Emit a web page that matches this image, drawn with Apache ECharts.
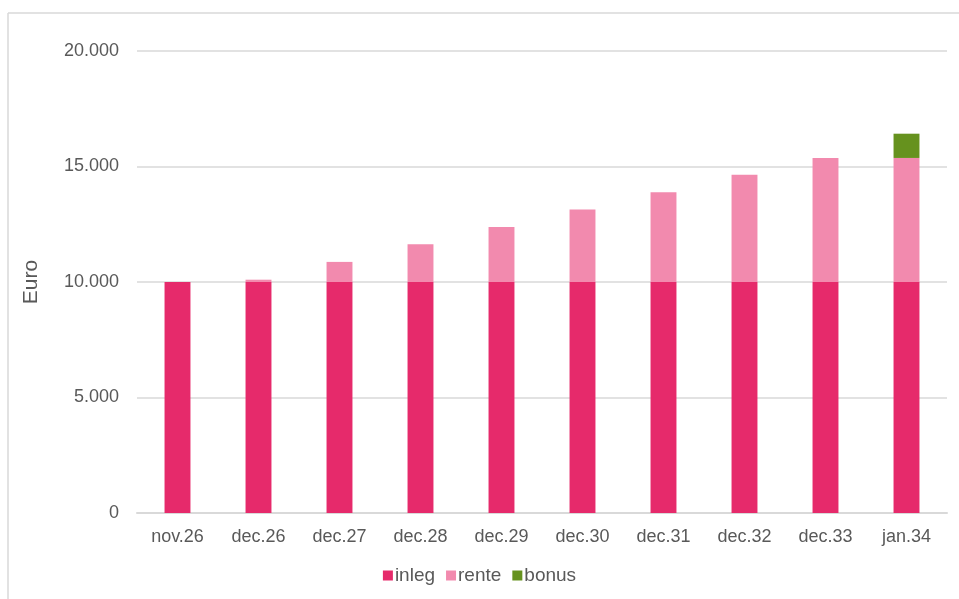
<!DOCTYPE html>
<html>
<head>
<meta charset="utf-8">
<script src="https://cdn.jsdelivr.net/npm/echarts@6/dist/echarts.min.js"></script>
<style>html,body{margin:0;padding:0;background:#fff}#c{width:959px;height:599px}</style>
</head>
<body>
<div id="c"></div>
<script>
var categories = ['nov.26','dec.26','dec.27','dec.28','dec.29','dec.30','dec.31','dec.32','dec.33','jan.34'];
var inleg = [10000,10000,10000,10000,10000,10000,10000,10000,10000,10000];
var rente = [0,100,870,1630,2380,3140,3890,4640,5370,5370];
var bonus = [0,0,0,0,0,0,0,0,0,1050];
var yTicks = [0,5000,10000,15000,20000];

var chart = echarts.init(document.getElementById('c'), null, {renderer:'canvas'});
var font = 'Liberation Sans, Arial, Helvetica, sans-serif';
function fmt(v){ return v === 0 ? '0' : String(v).replace(/\B(?=(\d{3})+(?!\d))/g, '.'); }
chart.setOption({
  animation:false,
  textStyle:{fontFamily:font},
  graphic:[
    {type:'line', shape:{x1:8,y1:13,x2:959,y2:13}, style:{stroke:'#d9d9d9', lineWidth:1.5}},
    {type:'line', shape:{x1:8,y1:13,x2:8,y2:599}, style:{stroke:'#d9d9d9', lineWidth:1.5}}
  ],
  grid:{left:137, right:12, top:51, bottom:86, containLabel:false},
  legend:{
    bottom:9, left:'center', itemWidth:10, itemHeight:10, itemGap:11, icon:'rect',
    textStyle:{fontSize:19, color:'#595959', fontFamily:font, padding:[0,0,0,-3]},
    data:['inleg','rente','bonus']
  },
  xAxis:{
    type:'category', data:categories,
    axisLine:{lineStyle:{color:'#d9d9d9', width:2}},
    axisTick:{show:false},
    axisLabel:{fontSize:18, color:'#595959', margin:15, fontFamily:font}
  },
  yAxis:{
    type:'value', min:yTicks[0], max:yTicks[yTicks.length-1], interval:5000,
    name:'Euro', nameLocation:'middle', nameGap:95, nameRotate:90,
    nameTextStyle:{fontSize:21, color:'#595959', fontFamily:font},
    axisLine:{show:false}, axisTick:{show:false},
    splitLine:{lineStyle:{color:'#d9d9d9', width:1.5}},
    axisLabel:{fontSize:18, color:'#595959', margin:18, formatter:fmt, fontFamily:font}
  },
  series:[
    {name:'inleg', type:'bar', stack:'a', data:inleg, barWidth:'32%', itemStyle:{color:'#E62A6B'}},
    {name:'rente', type:'bar', stack:'a', data:rente, barWidth:'32%', itemStyle:{color:'#F28AAE'}},
    {name:'bonus', type:'bar', stack:'a', data:bonus, barWidth:'32%', itemStyle:{color:'#66921E'}}
  ]
});
</script>
</body>
</html>
